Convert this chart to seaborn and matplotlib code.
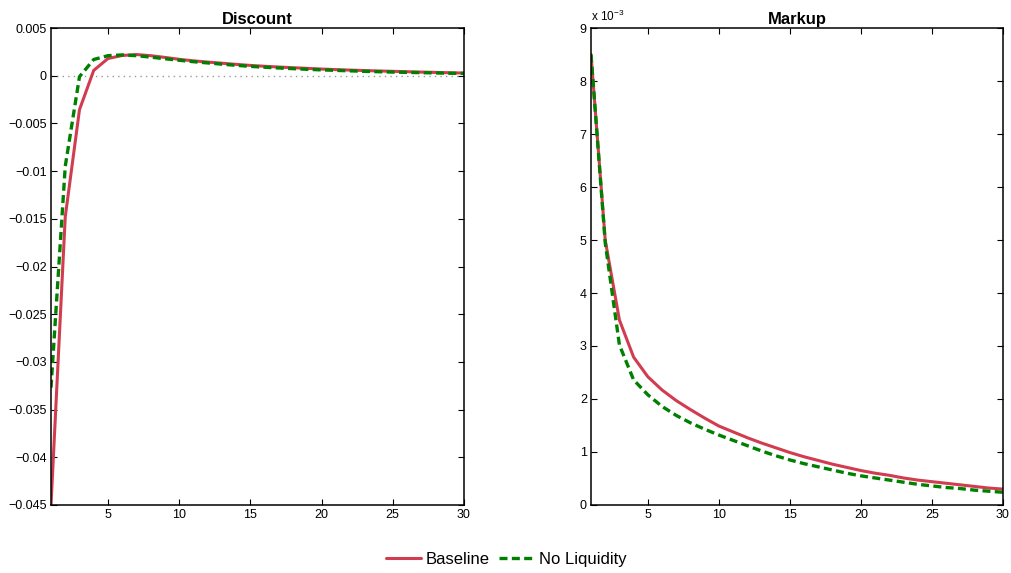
import numpy as np
import pandas as pd
import matplotlib
matplotlib.use("Agg")
import matplotlib.pyplot as plt
from matplotlib.ticker import FuncFormatter
import seaborn as sns

# Impulse responses over 30 periods
periods = list(range(1, 31))

discount_baseline = [
    -0.0450, -0.0148, -0.00356, 0.00056, 0.00180, 0.00212, 0.00222, 0.00210,
    0.00192, 0.00172, 0.00156, 0.00143, 0.00131, 0.00119, 0.00108, 0.00099,
    0.00091, 0.00084, 0.00077, 0.00070, 0.00064, 0.00059, 0.00054, 0.00050,
    0.00046, 0.00042, 0.00038, 0.00035, 0.00031, 0.00028,
]
discount_noliq = [
    -0.0327, -0.0095, -0.00010, 0.00170, 0.00210, 0.00218, 0.00210, 0.00195,
    0.00178, 0.00162, 0.00147, 0.00134, 0.00121, 0.00109, 0.00098, 0.00089,
    0.00081, 0.00074, 0.00067, 0.00061, 0.00056, 0.00051, 0.00046, 0.00042,
    0.00038, 0.00035, 0.00032, 0.00029, 0.00026, 0.00024,
]
markup_baseline = [
    8.50, 5.00, 3.49, 2.79, 2.42, 2.17, 1.97, 1.80, 1.64, 1.49,
    1.38, 1.27, 1.17, 1.08, 0.99, 0.91, 0.84, 0.77, 0.71, 0.65,
    0.60, 0.56, 0.51, 0.47, 0.44, 0.41, 0.38, 0.35, 0.32, 0.30,
]
markup_noliq = [
    8.50, 4.95, 3.02, 2.36, 2.08, 1.86, 1.69, 1.55, 1.43, 1.32,
    1.22, 1.12, 1.02, 0.93, 0.85, 0.78, 0.72, 0.66, 0.60, 0.55,
    0.51, 0.47, 0.43, 0.39, 0.36, 0.33, 0.31, 0.28, 0.26, 0.24,
]
series_names = ["Baseline", "No Liquidity"]

sns.set_style("ticks")
plt.rcParams["font.family"] = ["Liberation Sans", "DejaVu Sans"]
plt.rcParams["axes.unicode_minus"] = True
plt.rcParams["text.color"] = "black"

RED = "#D23C50"
GREEN = "#008000"

fig = plt.figure(figsize=(10.12, 5.73), dpi=100)
ax1 = fig.add_axes([0.0504, 0.1187, 0.408, 0.8324])
ax2 = fig.add_axes([0.584, 0.1187, 0.407, 0.8324])

disc = pd.DataFrame({"t": periods, "Baseline": discount_baseline,
                     "No Liquidity": discount_noliq})
mark = pd.DataFrame({"t": periods, "Baseline": markup_baseline,
                     "No Liquidity": markup_noliq})


def draw(ax, df):
    sns.lineplot(data=df, x="t", y="Baseline", ax=ax, color=RED, lw=2.2,
                 label=series_names[0], legend=False)
    sns.lineplot(data=df, x="t", y="No Liquidity", ax=ax, color=GREEN, lw=2.4,
                 label=series_names[1], legend=False)
    ax.lines[-1].set_dashes([2.4, 1.3])


def style(ax):
    ax.set_xlim(1, 30)
    ax.set_xticks([5, 10, 15, 20, 25, 30])
    ax.set_xlabel("")
    ax.set_ylabel("")
    for s in ax.spines.values():
        s.set_visible(True)
        s.set_linewidth(1.1)
        s.set_color("black")
    ax.tick_params(direction="in", length=4, width=0.8, top=True, right=True,
                   labelsize=9, pad=3, colors="black")


def tick_fmt(v, p):
    v = round(v, 4) + 0.0
    if abs(v) < 1e-12:
        return "0"
    return ("%g" % v).replace("-", "\u2212")


fmt = FuncFormatter(tick_fmt)

# Discount panel
ax1.axhline(0, color="#999999", lw=1.0, ls=(0, (1, 3)), zorder=0)
draw(ax1, disc)
style(ax1)
ax1.set_ylim(-0.045, 0.005)
ax1.set_yticks(np.arange(-0.045, 0.0051, 0.005))
ax1.yaxis.set_major_formatter(fmt)
ax1.set_title("Discount", fontsize=12, fontweight="bold", pad=3, color="black")

# Markup panel (scaled by 10^-3)
draw(ax2, mark)
style(ax2)
ax2.set_ylim(0, 9)
ax2.set_yticks(range(0, 10))
ax2.set_title("Markup", fontsize=12, fontweight="bold", pad=3, color="black")
ax2.text(0.0, 1.008, "x 10$^{\\mathregular{\u22123}}$",
         transform=ax2.transAxes, fontsize=8.5, va="bottom", ha="left")

handles = ax2.lines[:2]
fig.legend(handles, series_names, loc="center", bbox_to_anchor=(0.5, 0.023),
           ncol=2, frameon=False, fontsize=12, handlelength=2.1,
           handletextpad=0.3, columnspacing=0.55)

fig.savefig("out.png", dpi=100)
